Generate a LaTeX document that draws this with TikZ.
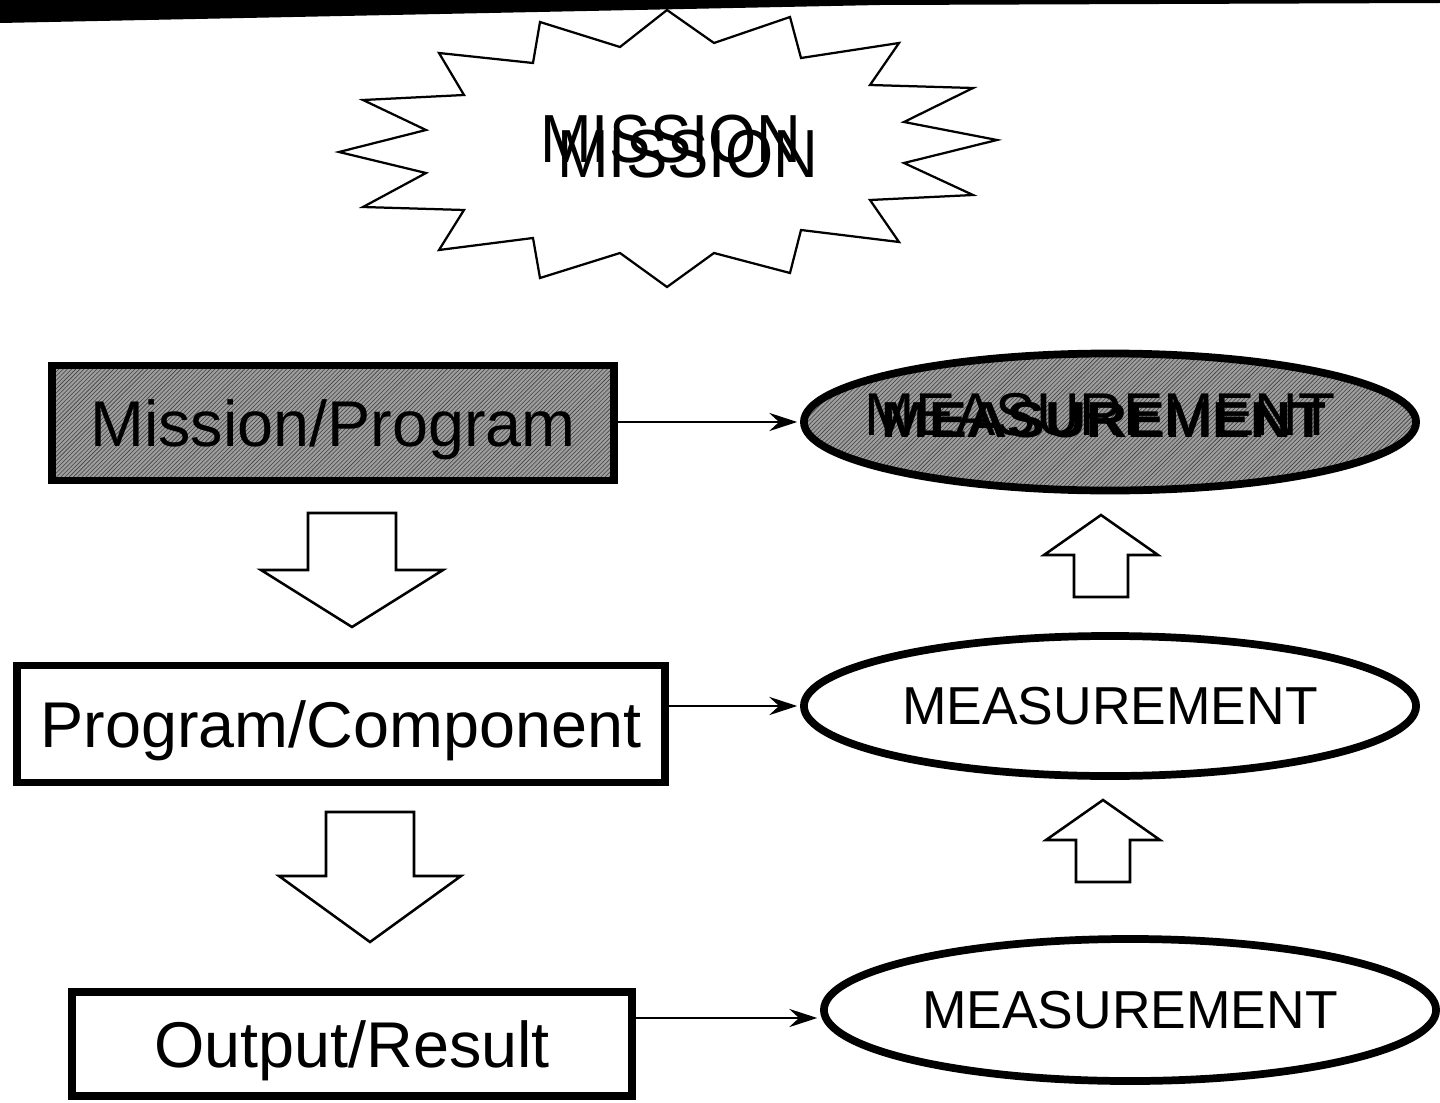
\documentclass[tikz,border=0pt]{standalone}
\usepackage{fontspec}
\setmainfont{Liberation Sans}
\usetikzlibrary{shapes.geometric,arrows.meta,patterns}

\tikzset{
	box/.style={draw, line width=5.5pt, inner sep=2pt, text depth=0pt, font=\fontsize{46}{50}\selectfont},
	meas/.style={draw, ellipse, line width=5.5pt, inner sep=0pt, font=\fontsize{38}{42}\selectfont},
	shaded/.style={preaction={fill=black!38}, pattern=north east lines, pattern color=black!75},
	link/.style={line width=1.3pt, -{Stealth[length=20pt,width=13pt,inset=7pt]}, shorten >=2pt},
	hollow/.style={draw, line width=1.8pt, fill=white, line join=miter},
}

\begin{document}
\begin{tikzpicture}[x=0.025cm,y=-0.025cm]
	\useasboundingbox (0,0) rectangle (1440,1103);
	% dark edge of the scan
	\fill (0,0) -- (1440,0) -- (1440,3) -- (880,5) -- (0,23) -- cycle;

	% burst
	\draw[line width=1.6pt, line join=miter] (667,10) -- (714,43) -- (790,17) -- (801,58) -- (899,43) -- (870,85) -- (973,88) -- (904,122) -- (997,140) -- (904,163) -- (973,195) -- (870,200) -- (899,242) -- (801,230) -- (790,273) -- (714,253) -- (667,287) -- (620,253) -- (540,278) -- (533,238) -- (439,250) -- (464,210) -- (363,207) -- (426,173) -- (339,152) -- (426,130) -- (363,100) -- (464,95) -- (439,53) -- (533,63) -- (540,22) -- (620,47) -- cycle;
	\node[font=\fontsize{44}{48}\selectfont, text depth=0pt, yscale=1.1] (mission) at (671,139) {MISSION};
	\node[font=\fontsize{44}{48}\selectfont, text depth=0pt, yscale=1.1] (missionb) at (688,154) {MISSION};

	% left column
	\node[box, shaded, minimum width=14.05cm, minimum height=2.875cm] (mprog) at (333,423) {Mission/Program};
	\node[box, minimum width=16.2cm, minimum height=2.925cm] (pcomp) at (341,724) {Program/Component};
	\node[box, minimum width=14cm, minimum height=2.6cm] (oresult) at (352,1044) {Output/Result};

	% right column
	\node[meas, shaded, minimum width=15.3cm, minimum height=3.425cm] (measa) at (1110,422) {};
	\node[font=\fontsize{43}{46}\selectfont, text depth=0pt] (measatext) at ([shift={(-10,-8)}]measa.center) {MEASUREMENT};
	\node[font=\bfseries\fontsize{36}{40}\selectfont, text depth=0pt, xscale=1.12] (measabold) at ([shift={(-6,-2)}]measa.center) {MEASUREMENT};
	\node[meas, minimum width=15.3cm, minimum height=3.5cm, text depth=0pt] (measb) at (1110,706) {MEASUREMENT};
	\node[meas, minimum width=15.3cm, minimum height=3.55cm, text depth=0pt] (measc) at (1130,1010) {MEASUREMENT};

	\draw[link] (measa.west -| mprog.east) -- (measa.west);
	\draw[link] (measb.west -| pcomp.east) -- (measb.west);
	\draw[link] ([yshift=-0.2cm]measc.west -| oresult.east) -- ([yshift=-0.2cm]measc.west);

	% block arrows
	\foreach \cx/\ty/\sl/\hl in {352/513/57/57, 370/812/64/66}
		\draw[hollow] (\cx-44,\ty) -- (\cx+44,\ty) -- (\cx+44,\ty+\sl) -- (\cx+91,\ty+\sl) -- (\cx,\ty+\sl+\hl) -- (\cx-91,\ty+\sl) -- (\cx-44,\ty+\sl) -- cycle;
	\foreach \cx/\by in {1101/597, 1103/882}
		\draw[hollow] (\cx-27,\by) -- (\cx+27,\by) -- (\cx+27,\by-42) -- (\cx+57,\by-42) -- (\cx,\by-82) -- (\cx-57,\by-42) -- (\cx-27,\by-42) -- cycle;
\end{tikzpicture}
\end{document}
